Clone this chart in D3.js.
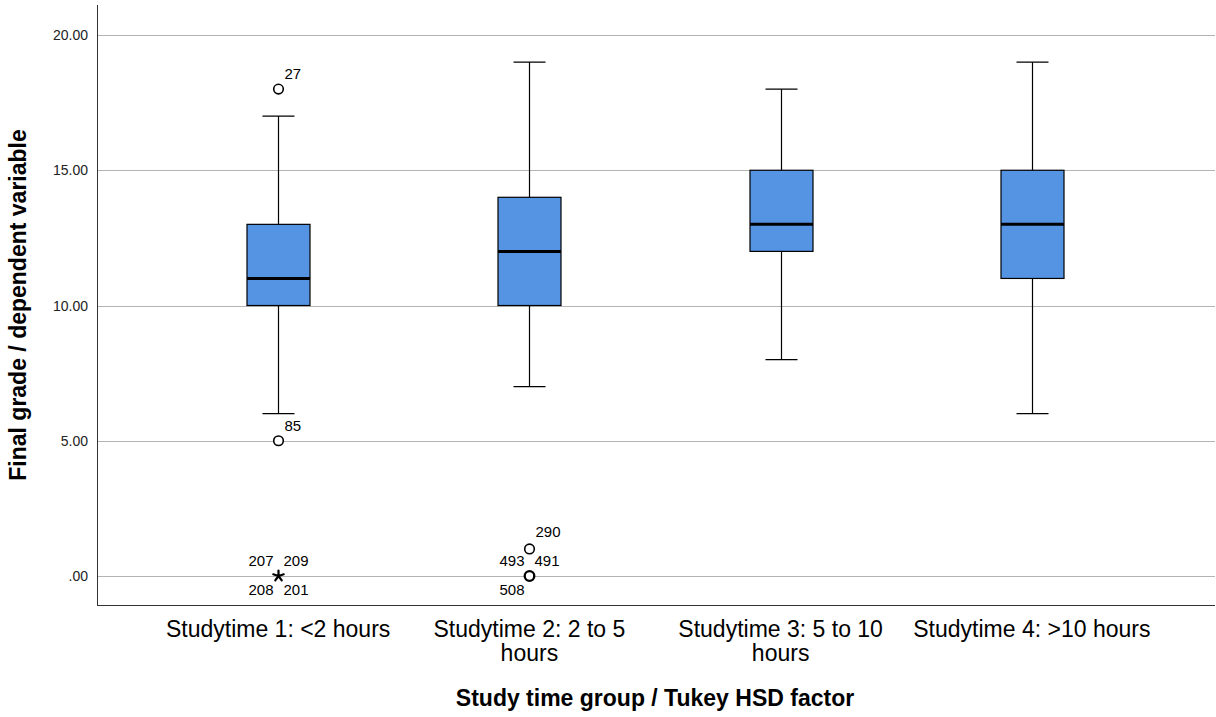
<!DOCTYPE html>
<html><head><meta charset="utf-8">
<script src="https://cdn.jsdelivr.net/npm/d3@7"></script>
<style>body{margin:0;background:#fff}svg{display:block;font-family:"Liberation Sans",Arial,sans-serif}</style>
</head><body>
<svg id="c" width="1216" height="717"></svg>
<script>
const categories = ["Studytime 1: <2 hours", "Studytime 2: 2 to 5 hours", "Studytime 3: 5 to 10 hours", "Studytime 4: >10 hours"];
const categoryLines = [["Studytime 1: <2 hours"], ["Studytime 2: 2 to 5", "hours"], ["Studytime 3: 5 to 10", "hours"], ["Studytime 4: >10 hours"]];
const whiskerLow = [6, 7, 8, 6];
const q1 = [10, 10, 12, 11];
const median = [11, 12, 13, 13];
const q3 = [13, 14, 15, 15];
const whiskerHigh = [17, 19, 18, 19];
const outlierGroup = [0, 0, 0, 1, 1];
const outlierValue = [18, 5, 0, 1, 0];
const outlierKind = ["circle", "circle", "extreme", "circle", "circle"];
const outlierLabels = [["27"], ["85"], ["207", "209", "208", "201"], ["290"], ["493", "491", "508"]];
const yTicks = [0, 5, 10, 15, 20];
const yTickLabels = [".00", "5.00", "10.00", "15.00", "20.00"];
const xTitle = "Study time group / Tukey HSD factor";
const yTitle = "Final grade / dependent variable";

(function () {
const svg = d3.select("#c");
const pLeft = 97, pRight = 1215, pTop = 5, pBottom = 605;
const y = d3.scaleLinear().domain([0, 20]).range([576, 35]);
const x = d3.scaleBand().domain(categories).range([152.5, 1157.5]);
const cx = i => x(categories[i]) + x.bandwidth() / 2;
const boxW = 63, capW = 32;

// gridlines
svg.append("g").selectAll("line").data(yTicks).join("line")
  .attr("x1", pLeft).attr("x2", pRight)
  .attr("y1", d => Math.round(y(d)) + 0.5).attr("y2", d => Math.round(y(d)) + 0.5)
  .attr("stroke", "#b4b4b4").attr("stroke-width", 1);

// y tick labels
svg.append("g").selectAll("text").data(yTicks).join("text")
  .attr("x", 88).attr("y", d => y(d)).attr("dy", "0.36em")
  .attr("text-anchor", "end").attr("font-size", 14).attr("fill", "#222")
  .text((d, i) => yTickLabels[i]);

// axes lines
svg.append("line").attr("x1", pLeft + 0.5).attr("x2", pLeft + 0.5).attr("y1", pTop).attr("y2", pBottom)
  .attr("stroke", "#333").attr("stroke-width", 1);
svg.append("line").attr("x1", pLeft).attr("x2", pRight).attr("y1", pBottom + 0.5).attr("y2", pBottom + 0.5)
  .attr("stroke", "#333").attr("stroke-width", 1);

// boxes
const g = svg.append("g");
categories.forEach((c, i) => {
  const xc = Math.round(cx(i)) + 0.5;
  g.append("line").attr("x1", xc).attr("x2", xc).attr("y1", y(whiskerHigh[i])).attr("y2", y(q3[i])).attr("stroke", "#000").attr("stroke-width", 1.2);
  g.append("line").attr("x1", xc).attr("x2", xc).attr("y1", y(q1[i])).attr("y2", y(whiskerLow[i])).attr("stroke", "#000").attr("stroke-width", 1.2);
  g.append("line").attr("x1", xc - capW / 2).attr("x2", xc + capW / 2).attr("y1", y(whiskerHigh[i])).attr("y2", y(whiskerHigh[i])).attr("stroke", "#000").attr("stroke-width", 1.2);
  g.append("line").attr("x1", xc - capW / 2).attr("x2", xc + capW / 2).attr("y1", y(whiskerLow[i])).attr("y2", y(whiskerLow[i])).attr("stroke", "#000").attr("stroke-width", 1.2);
  g.append("rect").attr("x", xc - boxW / 2).attr("width", boxW)
    .attr("y", y(q3[i])).attr("height", y(q1[i]) - y(q3[i]))
    .attr("fill", "#5594e3").attr("stroke", "#000").attr("stroke-width", 1.2);
  g.append("line").attr("x1", xc - boxW / 2).attr("x2", xc + boxW / 2).attr("y1", y(median[i])).attr("y2", y(median[i])).attr("stroke", "#000").attr("stroke-width", 3);
});

// asterisk glyph (5 arms)
function asteriskPath(r) {
  const p = d3.path();
  for (let k = 0; k < 5; k++) {
    const a = -Math.PI / 2 + k * 2 * Math.PI / 5;
    p.moveTo(0, 0); p.lineTo(r * Math.cos(a), r * Math.sin(a));
  }
  return p.toString();
}

// outliers
const placements = [{dx: -5, dy: -10, a: "end"}, {dx: 5, dy: -10, a: "start"}, {dx: -5, dy: 19, a: "end"}, {dx: 5, dy: 19, a: "start"}];
outlierValue.forEach((v, k) => {
  const xc = Math.round(cx(outlierGroup[k])) + 0.5, yc = y(v);
  const labs = outlierLabels[k];
  if (outlierKind[k] === "circle") {
    g.append("circle").attr("cx", xc).attr("cy", yc).attr("r", 4.8).attr("fill", "#fff").attr("stroke", "#000")
      .attr("stroke-width", labs.length > 1 ? 2.3 : 1.6);
  } else {
    g.append("path").attr("transform", `translate(${xc},${yc})`)
      .attr("d", asteriskPath(5.5))
      .attr("fill", "none").attr("stroke", "#000").attr("stroke-width", 2.2).attr("stroke-linecap", "round");
  }
  labs.forEach((t, j) => {
    const p = labs.length === 1 ? {dx: 6, dy: -10, a: "start"} : placements[j];
    g.append("text").attr("x", xc + p.dx).attr("y", yc + p.dy - (labs.length === 1 && v > 0 && v < 3 ? 2 : 0))
      .attr("text-anchor", p.a).attr("font-size", 15).attr("fill", "#000").text(t);
  });
});

// x tick labels
categoryLines.forEach((lines, i) => {
  lines.forEach((l, j) => svg.append("text").attr("text-anchor", "middle").attr("font-size", 23).attr("fill", "#000")
    .attr("x", cx(i)).attr("y", 637 + j * 24).text(l));
});

// titles
svg.append("text").attr("x", 655).attr("y", 706).attr("text-anchor", "middle")
  .attr("font-size", 23).attr("font-weight", "bold").text(xTitle);
svg.append("text").attr("transform", "translate(26,305) rotate(-90)").attr("text-anchor", "middle")
  .attr("font-size", 23).attr("font-weight", "bold").text(yTitle);
})();
</script>
</body></html>
